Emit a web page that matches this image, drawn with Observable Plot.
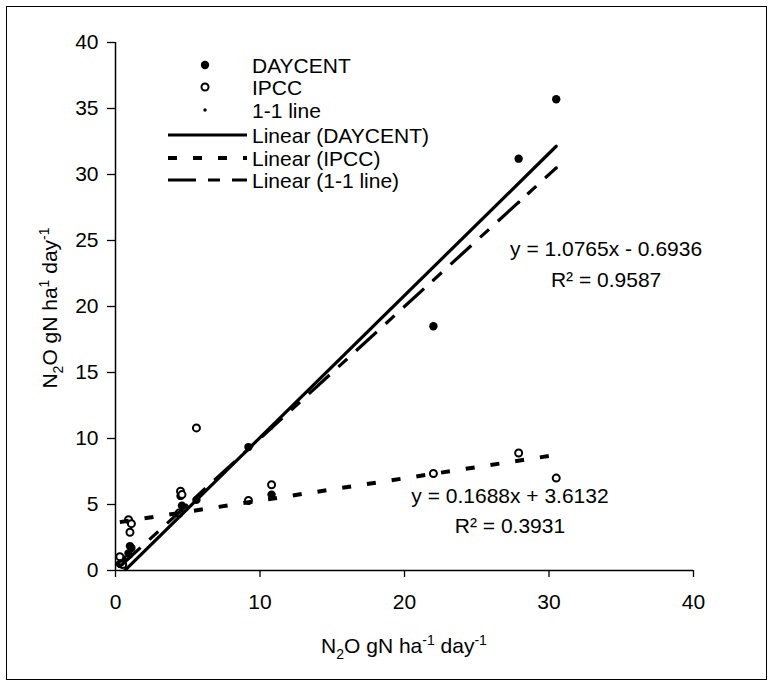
<!DOCTYPE html>
<html><head><meta charset="utf-8">
<script src="https://cdn.jsdelivr.net/npm/d3@7"></script>
<script src="https://cdn.jsdelivr.net/npm/@observablehq/plot@0.6"></script>
<style>
body{margin:0;background:#fff}
#chart{position:relative;width:774px;height:688px}
#chart svg{display:block}
</style>
</head><body><div id="chart"></div>
<script>
// measured N2O (x) and model predictions (y)
const measured = [0.3, 0.5, 0.9, 1.0, 1.1, 4.4, 4.5, 4.6, 5.6, 9.2, 10.8, 22.0, 27.9, 30.5];
const daycent  = [0.5, 0.85, 1.3, 1.85, 1.7, 4.3, 5.65, 4.9, 5.35, 9.35, 5.75, 18.5, 31.2, 35.7];
const ipcc     = [1.05, 0.45, 3.85, 2.9, 3.55, 4.35, 6.0, 5.75, 10.8, 5.3, 6.5, 7.35, 8.9, 7.0];
const fitNames = ["DAYCENT", "IPCC", "1-1 line"];
const fitSlope = [1.0765, 0.1688, 1];
const fitIntercept = [-0.6936, 3.6132, 0];
const fitR2 = [0.9587, 0.3931, null];
const xTicks = [0, 10, 20, 30, 40];
const yTicks = [0, 5, 10, 15, 20, 25, 30, 35, 40];
const legendLabels = ["DAYCENT", "IPCC", "1-1 line", "Linear (DAYCENT)", "Linear (IPCC)", "Linear (1-1 line)"];

const obs = measured.map((x, i) => ({x, daycent: daycent[i], ipcc: ipcc[i], one: x}));
const x0 = d3.min(measured), x1 = d3.max(measured);
const trend = fitNames.map((name, i) => [x0, x1].map(x => ({name, x, y: fitIntercept[i] + fitSlope[i] * x})));
const eqText = i => `y = ${fitSlope[i].toFixed(4)}x ${fitIntercept[i] < 0 ? "-" : "+"} ${Math.abs(fitIntercept[i]).toFixed(4)}`;
const r2Text = i => `R² = ${fitR2[i].toFixed(4)}`;

const FONT = "'Liberation Sans', Arial, Helvetica, sans-serif";
const FS = 21;

const plot = Plot.plot({
  width: 774, height: 688,
  marginLeft: 115, marginRight: 81, marginTop: 42, marginBottom: 118,
  style: {fontFamily: FONT, fontSize: FS + "px", color: "#000", background: "#fff", overflow: "visible"},
  x: {domain: [0, 40]},
  y: {domain: [0, 40]},
  marks: [
    Plot.axisX(xTicks, {tickSize: 7, tickPadding: 17, label: null, fontSize: FS, stroke: "#000", strokeWidth: 1.3, strokeOpacity: 1}),
    Plot.axisY(yTicks, {tickSize: 8, tickPadding: 9, label: null, fontSize: FS, stroke: "#000", strokeWidth: 1.3, strokeOpacity: 1}),
    Plot.ruleX([0], {stroke: "#000", strokeWidth: 1.5}),
    Plot.ruleY([0], {stroke: "#000", strokeWidth: 1.5}),
    Plot.dot(obs, {x: "x", y: "daycent", r: 4.2, fill: "#000", stroke: "none"}),
    Plot.dot(obs, {x: "x", y: "ipcc", r: 3.5, fill: "#fff", stroke: "#000", strokeWidth: 2}),
    Plot.dot(obs, {x: "x", y: "one", r: 1.7, fill: "#000", stroke: "none"}),
    Plot.line(trend[0], {x: "x", y: "y", stroke: "#000", strokeWidth: 3.2, clip: true}),
    Plot.line(trend[1], {x: "x", y: "y", stroke: "#000", strokeWidth: 4, strokeDasharray: "9,16", strokeLinecap: "butt", clip: true}),
    Plot.line(trend[2], {x: "x", y: "y", stroke: "#000", strokeWidth: 3.2, strokeDasharray: "28,12,12,12", strokeLinecap: "butt", clip: true}),
    Plot.text([eqText(0)], {x: 33.95, y: 24.3, text: d => d, fontSize: FS, fill: "#000", textAnchor: "middle"}),
    Plot.text([r2Text(0)], {x: 33.95, y: 22.0, text: d => d, fontSize: FS, fill: "#000", textAnchor: "middle"}),
    Plot.text([eqText(1)], {x: 27.3, y: 5.65, text: d => d, fontSize: FS, fill: "#000", textAnchor: "middle"}),
    Plot.text([r2Text(1)], {x: 27.3, y: 3.38, text: d => d, fontSize: FS, fill: "#000", textAnchor: "middle"})
  ]
});

const svg = d3.select(plot);
svg.selectAll("text").attr("fill", "#000");

// chart-area frame
svg.insert("rect", ":first-child")
  .attr("x", 6.5).attr("y", 6.5).attr("width", 760).attr("height", 673)
  .attr("fill", "none").attr("stroke", "#000").attr("stroke-width", 1);

// axis titles with sub/superscripts
function title(g, parts) {
  const t = g.append("text").attr("font-family", FONT).attr("font-size", FS).attr("fill", "#000").attr("text-anchor", "middle");
  let shift = 0;
  for (const [s, kind] of parts) {
    const target = kind === "sub" ? 6 : kind === "sup" ? -8 : 0;
    const ts = t.append("tspan").text(s).attr("dy", target - shift);
    if (kind) ts.attr("font-size", 14);
    shift = target;
  }
  return t;
}
const xt = svg.append("g").attr("transform", "translate(404,653)");
title(xt, [["N"], ["2", "sub"], ["O gN ha"], ["-1", "sup"], [" day"], ["-1", "sup"]]);
const yt = svg.append("g").attr("transform", "translate(57,308) rotate(-90)");
title(yt, [["N"], ["2", "sub"], ["O gN ha"], ["1", "sup"], [" day"], ["-1", "sup"]]);

// legend
const lg = svg.append("g").attr("font-family", FONT).attr("font-size", FS).attr("fill", "#000");
const rowY = [65, 87, 110, 135, 158, 180];
const mx = 205, lx0 = 168, lx1 = 247, tx = 252;
legendLabels.forEach((lab, i) => {
  lg.append("text").attr("x", tx).attr("y", rowY[i]).attr("dy", "0.36em").attr("text-anchor", "start").text(lab);
});
lg.append("circle").attr("cx", mx).attr("cy", rowY[0]).attr("r", 4.2).attr("fill", "#000");
lg.append("circle").attr("cx", mx).attr("cy", rowY[1]).attr("r", 3.5).attr("fill", "#fff").attr("stroke", "#000").attr("stroke-width", 2);
lg.append("circle").attr("cx", mx).attr("cy", rowY[2]).attr("r", 1.7).attr("fill", "#000");
lg.append("line").attr("x1", lx0).attr("x2", lx1).attr("y1", rowY[3]).attr("y2", rowY[3]).attr("stroke", "#000").attr("stroke-width", 3.2);
lg.append("line").attr("x1", lx0).attr("x2", lx1).attr("y1", rowY[4]).attr("y2", rowY[4]).attr("stroke", "#000").attr("stroke-width", 4).attr("stroke-dasharray", "9,16");
lg.append("line").attr("x1", lx0).attr("x2", lx1).attr("y1", rowY[5]).attr("y2", rowY[5]).attr("stroke", "#000").attr("stroke-width", 3.2).attr("stroke-dasharray", "28,12,12,12");

document.getElementById("chart").appendChild(plot);
</script>
</body></html>
